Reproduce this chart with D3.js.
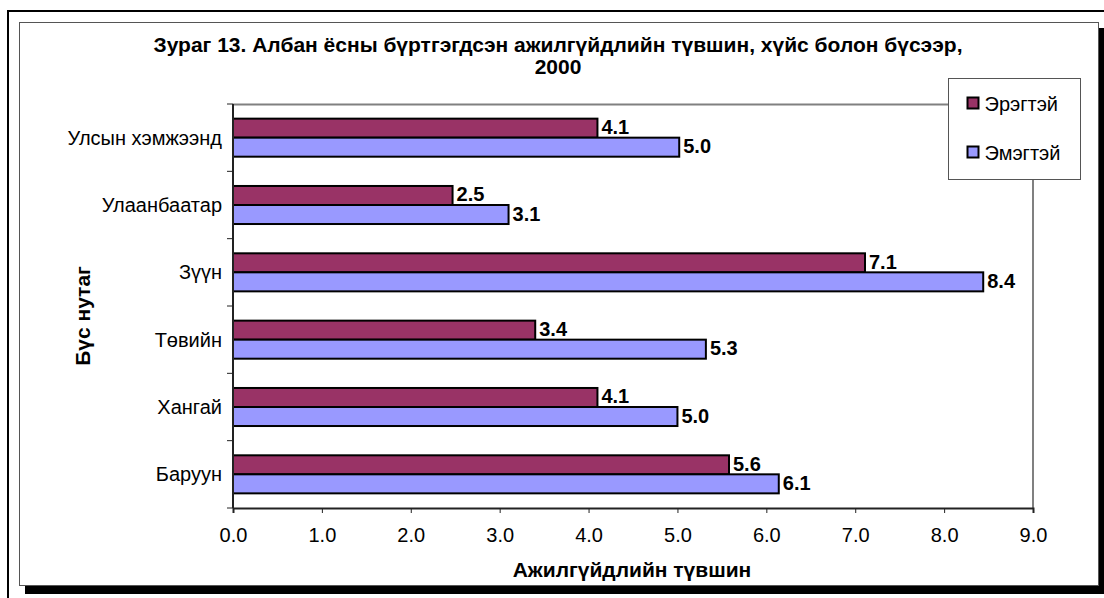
<!DOCTYPE html>
<html>
<head>
<meta charset="utf-8">
<script src="https://cdn.jsdelivr.net/npm/d3@7"></script>
<style>
  body { margin: 0; background: #fff; }
  svg { display: block; font-family: "Liberation Sans", Arial, sans-serif; }
</style>
</head>
<body>
<svg width="1104" height="598"></svg>
<script>
var regions = ["Улсын хэмжээнд", "Улаанбаатар", "Зүүн", "Төвийн", "Хангай", "Баруун"];
var series = ["Эрэгтэй", "Эмэгтэй"];
var male = [4.1, 2.47, 7.11, 3.4, 4.1, 5.58];
var female = [5.02, 3.1, 8.44, 5.32, 5.0, 6.14];
var xTicks = [0, 1, 2, 3, 4, 5, 6, 7, 8, 9];
var colors = ["#993366", "#9999ff"];

var data = regions.map((r, i) => ({region: r, values: [male[i], female[i]]}));

var svg = d3.select("svg"),
    margin = {top: 104, right: 71, bottom: 90, left: 233},
    width = +svg.attr("width") - margin.left - margin.right,
    height = +svg.attr("height") - margin.top - margin.bottom;

// page frame
svg.append("line").attr("x1", 7).attr("x2", 1104).attr("y1", 11).attr("y2", 11)
    .attr("stroke", "#000").attr("stroke-width", 2);
svg.append("line").attr("x1", 8).attr("x2", 8).attr("y1", 10).attr("y2", 598)
    .attr("stroke", "#000").attr("stroke-width", 2);
svg.append("rect").attr("x", 25).attr("y", 28).attr("width", 1080).attr("height", 566).attr("fill", "#000");
svg.append("rect").attr("x", 19.5).attr("y", 22.5).attr("width", 1079).attr("height", 563)
    .attr("fill", "#fff").attr("stroke", "#555");

var g = svg.append("g").attr("transform", "translate(" + margin.left + "," + margin.top + ")");

var x = d3.scaleLinear().domain([0, 9]).range([0, width]);

var y0 = d3.scaleBand().domain(regions).range([0, height])
    .paddingInner(0.435).paddingOuter(0.2175);
var y1 = d3.scaleBand().domain(series).range([0, y0.bandwidth()]);

// plot area border (top and right)
g.append("path")
    .attr("d", "M0,0.5H" + width + "V" + height)
    .attr("fill", "none").attr("stroke", "#808080").attr("stroke-width", 2);

// bars
var grp = g.selectAll(".region").data(data).enter().append("g")
    .attr("transform", d => "translate(0," + y0(d.region) + ")");

grp.selectAll("rect").data(d => d.values.map((v, i) => ({s: series[i], v: v, i: i})))
  .enter().append("rect")
    .attr("x", 0)
    .attr("y", d => y1(d.s))
    .attr("width", d => x(d.v))
    .attr("height", y1.bandwidth())
    .attr("fill", d => colors[d.i])
    .attr("stroke", "#000").attr("stroke-width", 2);

grp.selectAll("text").data(d => d.values.map((v, i) => ({s: series[i], v: v})))
  .enter().append("text")
    .attr("x", d => x(d.v) + 4)
    .attr("y", d => y1(d.s) + y1.bandwidth() / 2 + 6)
    .attr("font-size", 20).attr("font-weight", "bold")
    .text(d => d3.format(".1f")(d.v));

// x axis
var xAxis = g.append("g")
    .attr("transform", "translate(0," + height + ")")
    .call(d3.axisBottom(x).tickValues(xTicks).tickFormat(d3.format(".1f")).tickSize(5).tickPadding(15));
xAxis.select(".domain").attr("stroke", "#222").attr("stroke-width", 2);
xAxis.selectAll(".tick line").attr("stroke", "#222");
xAxis.selectAll("text").attr("font-size", 20).attr("font-family", "Liberation Sans, Arial, sans-serif").attr("fill", "#000");

// y axis: ticks at band boundaries
var bounds = d3.range(regions.length + 1).map(i => i * height / regions.length);
var yAxis = g.append("g");
yAxis.append("line").attr("x1", 0).attr("x2", 0).attr("y1", 0).attr("y2", height)
    .attr("stroke", "#222").attr("stroke-width", 2);
yAxis.selectAll(".tk").data(bounds).enter().append("line")
    .attr("x1", -6).attr("x2", 0).attr("y1", d => d).attr("y2", d => d)
    .attr("stroke", "#222");
yAxis.selectAll(".lbl").data(regions).enter().append("text")
    .attr("x", -11)
    .attr("y", d => y0(d) + y0.bandwidth() / 2 + 7)
    .attr("text-anchor", "end").attr("font-size", 20)
    .text(d => d);

// titles
var title = svg.append("text").attr("text-anchor", "middle")
    .attr("font-size", 21).attr("font-weight", "bold");
title.append("tspan").attr("x", 558).attr("y", 52)
    .text("Зураг 13. Албан ёсны бүртгэгдсэн ажилгүйдлийн түвшин, хүйс болон бүсээр,");
title.append("tspan").attr("x", 558).attr("y", 74).text("2000");

svg.append("text").attr("x", 632).attr("y", 577).attr("text-anchor", "middle")
    .attr("font-size", 21).attr("font-weight", "bold")
    .text("Ажилгүйдлийн түвшин");

svg.append("text").attr("transform", "translate(90,316) rotate(-90)")
    .attr("text-anchor", "middle").attr("font-size", 21).attr("font-weight", "bold")
    .text("Бүс нутаг");

// legend
var legend = svg.append("g").attr("transform", "translate(948.5,78.5)");
legend.append("rect").attr("width", 132).attr("height", 101)
    .attr("fill", "#fff").attr("stroke", "#555");
var li = legend.selectAll(".li").data(series).enter().append("g")
    .attr("transform", (d, i) => "translate(19," + (19 + i * 49) + ")");
li.append("rect").attr("width", 11).attr("height", 11)
    .attr("fill", (d, i) => colors[i]).attr("stroke", "#000").attr("stroke-width", 2);
li.append("text").attr("x", 17).attr("y", 13).attr("font-size", 20).text(d => d);
</script>
</body>
</html>
